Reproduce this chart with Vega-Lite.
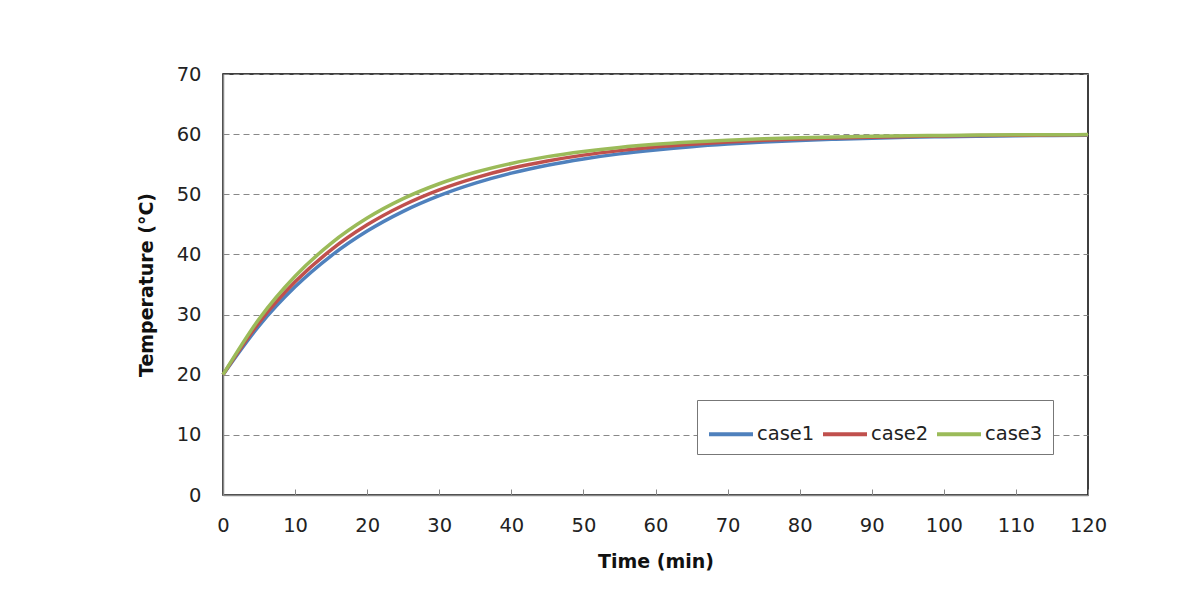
{
  "$schema": "https://vega.github.io/schema/vega-lite/v6.json",
  "width": 865,
  "height": 421,
  "autosize": {"type": "none"},
  "padding": {"left": 223, "top": 74, "right": 102, "bottom": 120},
  "background": "white",
  "config": {
    "view": {"stroke": "black", "strokeWidth": 1.5},
    "font": "DejaVu Sans"
  },
  "data": {
    "values": [
      {"t": 0, "case": "case1", "T": 20}, {"t": 5, "case": "case1", "T": 28.13}, {"t": 10, "case": "case1", "T": 34.61}, {"t": 15, "case": "case1", "T": 39.77}, {"t": 20, "case": "case1", "T": 43.88}, {"t": 25, "case": "case1", "T": 47.16}, {"t": 30, "case": "case1", "T": 49.77}, {"t": 35, "case": "case1", "T": 51.85}, {"t": 40, "case": "case1", "T": 53.51}, {"t": 45, "case": "case1", "T": 54.83}, {"t": 50, "case": "case1", "T": 55.88}, {"t": 55, "case": "case1", "T": 56.72}, {"t": 60, "case": "case1", "T": 57.38}, {"t": 65, "case": "case1", "T": 57.92}, {"t": 70, "case": "case1", "T": 58.34}, {"t": 75, "case": "case1", "T": 58.68}, {"t": 80, "case": "case1", "T": 58.95}, {"t": 85, "case": "case1", "T": 59.16}, {"t": 90, "case": "case1", "T": 59.33}, {"t": 95, "case": "case1", "T": 59.47}, {"t": 100, "case": "case1", "T": 59.58}, {"t": 105, "case": "case1", "T": 59.66}, {"t": 110, "case": "case1", "T": 59.73}, {"t": 115, "case": "case1", "T": 59.79}, {"t": 120, "case": "case1", "T": 59.83},
      {"t": 0, "case": "case2", "T": 20}, {"t": 5, "case": "case2", "T": 28.66}, {"t": 10, "case": "case2", "T": 35.44}, {"t": 15, "case": "case2", "T": 40.76}, {"t": 20, "case": "case2", "T": 44.92}, {"t": 25, "case": "case2", "T": 48.18}, {"t": 30, "case": "case2", "T": 50.74}, {"t": 35, "case": "case2", "T": 52.74}, {"t": 40, "case": "case2", "T": 54.32}, {"t": 45, "case": "case2", "T": 55.54}, {"t": 50, "case": "case2", "T": 56.51}, {"t": 55, "case": "case2", "T": 57.26}, {"t": 60, "case": "case2", "T": 57.86}, {"t": 65, "case": "case2", "T": 58.32}, {"t": 70, "case": "case2", "T": 58.68}, {"t": 75, "case": "case2", "T": 58.97}, {"t": 80, "case": "case2", "T": 59.19}, {"t": 85, "case": "case2", "T": 59.37}, {"t": 90, "case": "case2", "T": 59.5}, {"t": 95, "case": "case2", "T": 59.61}, {"t": 100, "case": "case2", "T": 59.7}, {"t": 105, "case": "case2", "T": 59.76}, {"t": 110, "case": "case2", "T": 59.81}, {"t": 115, "case": "case2", "T": 59.85}, {"t": 120, "case": "case2", "T": 59.88},
      {"t": 0, "case": "case3", "T": 20}, {"t": 5, "case": "case3", "T": 29.26}, {"t": 10, "case": "case3", "T": 36.37}, {"t": 15, "case": "case3", "T": 41.84}, {"t": 20, "case": "case3", "T": 46.04}, {"t": 25, "case": "case3", "T": 49.27}, {"t": 30, "case": "case3", "T": 51.75}, {"t": 35, "case": "case3", "T": 53.66}, {"t": 40, "case": "case3", "T": 55.13}, {"t": 45, "case": "case3", "T": 56.26}, {"t": 50, "case": "case3", "T": 57.12}, {"t": 55, "case": "case3", "T": 57.79}, {"t": 60, "case": "case3", "T": 58.3}, {"t": 65, "case": "case3", "T": 58.69}, {"t": 70, "case": "case3", "T": 59.0}, {"t": 75, "case": "case3", "T": 59.23}, {"t": 80, "case": "case3", "T": 59.41}, {"t": 85, "case": "case3", "T": 59.54}, {"t": 90, "case": "case3", "T": 59.65}, {"t": 95, "case": "case3", "T": 59.73}, {"t": 100, "case": "case3", "T": 59.79}, {"t": 105, "case": "case3", "T": 59.84}, {"t": 110, "case": "case3", "T": 59.88}, {"t": 115, "case": "case3", "T": 59.9}, {"t": 120, "case": "case3", "T": 59.93}
    ]
  },
  "mark": {"type": "line", "strokeWidth": 3.5, "interpolate": "monotone"},
  "encoding": {
    "x": {
      "field": "t", "type": "quantitative",
      "scale": {"domain": [0, 120], "nice": false, "zero": true},
      "axis": {
        "title": "Time (min)", "values": [0, 10, 20, 30, 40, 50, 60, 70, 80, 90, 100, 110, 120],
        "grid": false, "domainColor": "#888888", "domainWidth": 1.5,
        "tickColor": "#888888", "tickSize": -6, "tickWidth": 1,
        "labelFontSize": 19.5, "labelColor": "#222222", "labelPadding": 27, "labelFlush": false,
        "titleFontSize": 19, "titleFontWeight": "bold", "titleColor": "#111111", "titlePadding": 18
      }
    },
    "y": {
      "field": "T", "type": "quantitative",
      "scale": {"domain": [0, 70], "nice": false},
      "axis": {
        "title": "Temperature (°C)", "values": [0, 10, 20, 30, 40, 50, 60, 70],
        "grid": true, "gridDash": [6, 4], "gridColor": "#888888", "gridWidth": 1,
        "domainColor": "#888888", "domainWidth": 1.5, "ticks": false,
        "labelFontSize": 19.5, "labelColor": "#222222", "labelPadding": 22, "labelFlush": false,
        "titleFontSize": 19, "titleFontWeight": "bold", "titleColor": "#111111", "titlePadding": 20
      }
    },
    "color": {
      "field": "case", "type": "nominal",
      "scale": {"domain": ["case1", "case2", "case3"], "range": ["#4F81BD", "#C0504D", "#9BBB59"]},
      "legend": {
        "title": null, "orient": "none", "legendX": 474, "legendY": 326,
        "direction": "horizontal", "symbolType": "stroke", "symbolStrokeWidth": 4, "symbolSize": 1936,
        "labelFontSize": 19.5, "labelColor": "#222222", "labelOffset": 2, "columnPadding": 0,
        "padding": 10, "strokeColor": "#777777", "fillColor": "white", "cornerRadius": 0
      }
    }
  }
}
